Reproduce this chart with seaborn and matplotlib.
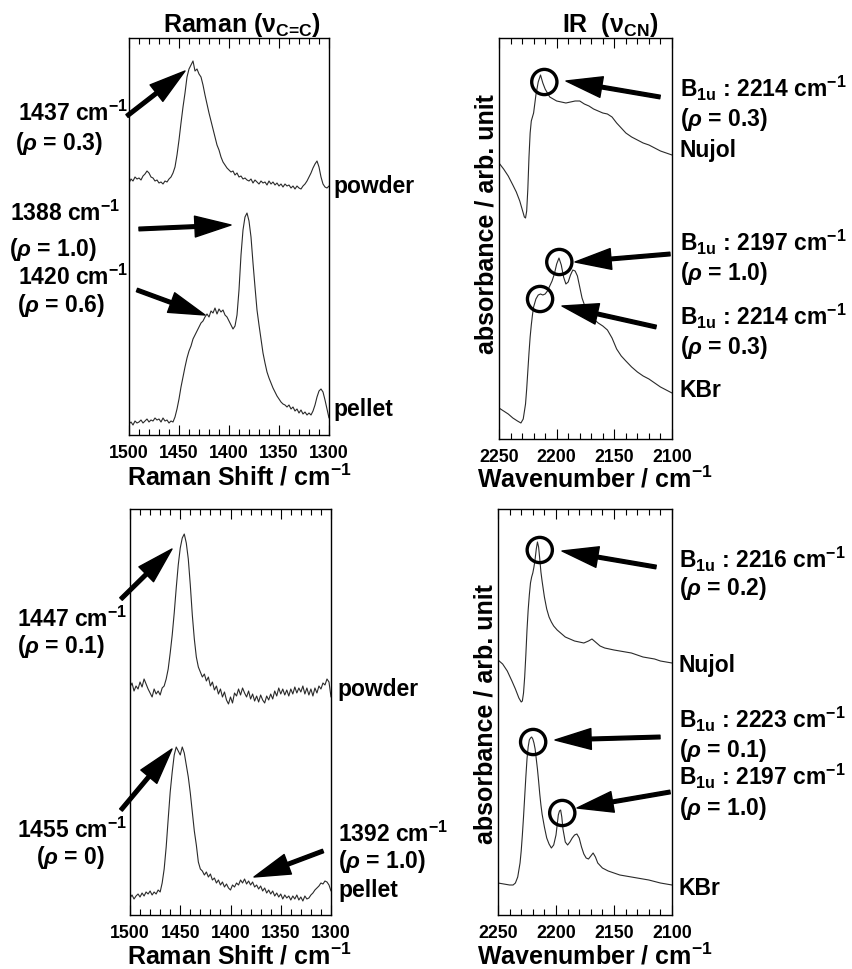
import matplotlib
matplotlib.use("Agg")
import matplotlib.pyplot as plt
from matplotlib.ticker import MultipleLocator
import numpy as np
import seaborn as sns

W, H = 853, 969  # size of the reference picture in pixels

# Raman spectra, sampled every 2 cm-1 from 1500 down to 1300 (arb. units, offsets included)
RAMAN_SHIFT = np.arange(1500, 1299, -2)

RAMAN_TOP_POWDER = [
    252, 256, 254, 258, 256, 257, 255, 259, 261, 264,
    262, 258, 257, 254, 255, 252, 253, 251, 254, 253,
    256, 258, 262, 268, 280, 295, 312, 328, 342, 358,
    366, 370, 374, 364, 366, 361, 358, 350, 340, 331,
    322, 314, 306, 298, 290, 285, 278, 273, 270, 267,
    265, 263, 264, 260, 262, 258, 259, 256, 257, 255,
    254, 256, 252, 255, 253, 251, 254, 252, 253, 250,
    254, 251, 253, 250, 252, 249, 251, 248, 251, 249,
    250, 247, 249, 246, 249, 247, 246, 249, 251, 254,
    258, 262, 267, 271, 274, 268, 258, 251, 248, 247,
    249,
]
RAMAN_TOP_PELLET = [
    11, 13, 10, 14, 12, 13, 15, 12, 14, 16,
    13, 15, 14, 17, 15, 16, 13, 17, 14, 15,
    12, 14, 13, 18, 26, 36, 48, 58, 68, 77,
    84, 89, 96, 100, 104, 108, 112, 114, 118, 121,
    118, 124, 122, 127, 121, 126, 123, 125, 120, 118,
    114, 110, 106, 109, 120, 145, 180, 205, 218, 222,
    214, 198, 172, 148, 125, 110, 96, 82, 72, 63,
    57, 52, 47, 43, 39, 36, 33, 31, 30, 28,
    30, 26, 28, 24, 26, 22, 25, 21, 23, 20,
    22, 20, 24, 30, 38, 44, 46, 43, 35, 26,
    17,
]
RAMAN_BOT_POWDER = [
    228, 232, 224, 229, 226, 233, 228, 236, 231, 226,
    222, 218, 226, 221, 224, 220, 227, 229, 236, 246,
    262, 280, 302, 327, 350, 367, 377, 381, 372, 356,
    330, 300, 276, 258, 248, 243, 238, 241, 234, 238,
    229, 233, 225, 229, 221, 226, 218, 223, 215, 211,
    218, 212, 222, 219, 226, 220, 227, 222, 218, 224,
    216, 221, 214, 219, 213, 220, 215, 212, 219, 215,
    221, 216, 224, 219, 227, 221, 226, 220, 225, 219,
    226, 221, 228, 222, 227, 223, 229, 221, 227, 220,
    226, 219, 227, 222, 229, 226, 232, 230, 236, 233,
    218,
]
RAMAN_BOT_PELLET = [
    17, 20, 16, 19, 21, 18, 22, 19, 23, 21,
    24, 20, 23, 21, 25, 23, 32, 46, 68, 96,
    123, 143, 160, 168, 164, 160, 168, 162, 150, 138,
    122, 103, 84, 70, 53, 46, 44, 40, 43, 38,
    41, 35, 37, 32, 35, 30, 33, 28, 31, 27,
    25, 30, 28, 32, 30, 35, 32, 36, 31, 34,
    30, 33, 28, 30, 26, 29, 24, 27, 22, 25,
    21, 24, 19, 22, 18, 21, 16, 20, 17, 19,
    15, 19, 16, 20, 15, 18, 14, 19, 16, 17,
    20, 22, 25, 27, 29, 32, 31, 34, 33, 30,
    24,
]

# IR spectra (wavenumber / cm-1, absorbance in arb. units with offsets)
IR_TOP_NUJOL_WN = [
    2250, 2246, 2242, 2238, 2235, 2232, 2230, 2228, 2227, 2226,
    2225, 2224, 2223, 2222, 2220, 2218, 2216, 2214, 2212, 2210,
    2208, 2206, 2203, 2200, 2196, 2192, 2188, 2184, 2180, 2176,
    2172, 2168, 2164, 2160, 2156, 2152, 2148, 2144, 2140, 2135,
    2130, 2125, 2120, 2115, 2110, 2105, 2100,
]
IR_TOP_NUJOL = [
    276, 270, 263, 254, 247, 238, 230, 222, 221, 228,
    250, 282, 306, 318, 326, 344, 357, 364, 356, 350,
    346, 342, 340, 338, 337, 336, 337, 338, 338, 335,
    333, 330, 328, 326, 325, 322, 316, 311, 306, 302,
    299, 296, 294, 291, 288, 286, 284,
]
IR_TOP_KBR_WN = [
    2250, 2246, 2242, 2238, 2234, 2231, 2229, 2227, 2226, 2225,
    2224, 2223, 2222, 2221, 2220, 2218, 2216, 2214, 2212, 2210,
    2208, 2206, 2204, 2202, 2200, 2198, 2196, 2194, 2192, 2190,
    2188, 2186, 2184, 2182, 2180, 2178, 2175, 2172, 2168, 2164,
    2160, 2156, 2152, 2148, 2144, 2140, 2135, 2130, 2125, 2120,
    2115, 2110, 2105, 2100,
]
IR_TOP_KBR = [
    31, 28, 25, 21, 18, 16, 20, 35, 50, 68,
    86, 102, 114, 124, 132, 140, 144, 145, 144, 145,
    148, 153, 158, 165, 175, 181, 174, 162, 155, 157,
    164, 169, 168, 163, 152, 141, 131, 125, 120, 116,
    113, 109, 101, 90, 83, 78, 72, 67, 63, 60,
    56, 52, 49, 46,
]
IR_BOT_NUJOL_WN = [
    2250, 2246, 2242, 2238, 2235, 2232, 2230, 2229, 2228, 2227,
    2226, 2225, 2224, 2223, 2222, 2221, 2220, 2219, 2218, 2217,
    2216, 2215, 2214, 2213, 2212, 2210, 2208, 2206, 2204, 2202,
    2199, 2196, 2192, 2188, 2184, 2180, 2176, 2172, 2169, 2166,
    2162, 2158, 2154, 2150, 2145, 2140, 2135, 2130, 2125, 2120,
    2115, 2110, 2105, 2100,
]
IR_BOT_NUJOL = [
    255, 251, 244, 234, 226, 217, 213, 214, 222, 238,
    260, 285, 305, 320, 332, 338, 342, 348, 356, 366,
    373, 368, 356, 343, 334, 318, 306, 298, 293, 289,
    285, 282, 278, 276, 274, 273, 272, 274, 276, 273,
    269, 267, 266, 265, 264, 263, 262, 260, 258, 257,
    256, 254, 253, 252,
]
IR_BOT_KBR_WN = [
    2250, 2245, 2240, 2237, 2235, 2233, 2231, 2230, 2229, 2228,
    2227, 2226, 2225, 2224, 2223, 2222, 2221, 2220, 2219, 2218,
    2217, 2216, 2215, 2214, 2213, 2212, 2210, 2208, 2206, 2204,
    2202, 2200, 2199, 2198, 2197, 2196, 2195, 2194, 2192, 2190,
    2188, 2186, 2184, 2182, 2180, 2178, 2176, 2174, 2172, 2170,
    2168, 2166, 2164, 2160, 2155, 2150, 2145, 2140, 2130, 2120,
    2110, 2100,
]
IR_BOT_KBR = [
    32, 31, 30, 30, 32, 38, 52, 64, 80, 98,
    118, 138, 156, 168, 175, 177, 178, 176, 172, 166,
    156, 146, 134, 121, 110, 101, 88, 77, 71, 67,
    70, 80, 90, 100, 104, 105, 98, 86, 73, 70,
    73, 77, 80, 81, 77, 68, 61, 57, 56, 59,
    62, 58, 52, 47, 44, 42, 40, 39, 37, 35,
    32, 30,
]

# circled B1u bands
IR_TOP_MARK_WN = [2210.7, 2197.7, 2214.4]
IR_TOP_MARK = [357, 177, 140]
IR_BOT_MARK_WN = [2214.0, 2219.7, 2194.6]
IR_BOT_MARK = [365, 173, 102]

RAMAN_TICKS = [1500, 1450, 1400, 1350, 1300]
IR_TICKS = [2250, 2200, 2150, 2100]


def frac(x, y):
    # reference pixel position -> figure fraction
    return x / W, 1 - y / H


def rect(left, top, right, bottom):
    return [left / W, 1 - bottom / H, (right - left) / W, (bottom - top) / H]


def style_axis(ax, lim, ticks, height):
    ax.set_xlim(*lim)
    ax.set_ylim(0, height)
    ax.set_xticks(ticks)
    ax.xaxis.set_minor_locator(MultipleLocator(10))
    ax.set_yticks([])
    ax.tick_params(axis="x", which="both", direction="in", top=True, bottom=True,
                   labelsize=12.8, pad=7, width=0.8, color="black", labelcolor="black")
    ax.tick_params(axis="x", which="major", length=7)
    ax.tick_params(axis="x", which="minor", length=4)
    for s in ax.spines.values():
        s.set_color("black")
        s.set_linewidth(1.0)


def trace(ax, x, y):
    sns.lineplot(x=x, y=y, ax=ax, color="#2a2a2a", linewidth=0.8,
                 estimator=None, sort=False)


def circles(ax, x, y):
    sns.scatterplot(x=x, y=y, ax=ax, s=330, marker="o", color="black",
                    facecolor="none", edgecolor="black", linewidth=2.4, zorder=5)


def arrow(ax, tail, tip):
    ax.annotate("", xy=frac(*tip), xytext=frac(*tail),
                xycoords="figure fraction", textcoords="figure fraction",
                arrowprops=dict(facecolor="black", edgecolor="black", width=2.6,
                                headwidth=15, headlength=26, shrink=0),
                annotation_clip=False)


def label(fig, text, x, y, size=16.5, ha="left"):
    fig.text(*frac(x, y), text, fontsize=size, fontweight="bold", ha=ha,
             va="baseline", color="black")


sns.set_theme(style="ticks")
plt.rcParams["font.family"] = ["Liberation Sans", "DejaVu Sans"]
plt.rcParams["font.weight"] = "bold"
plt.rcParams["text.color"] = "black"
plt.rcParams["axes.labelcolor"] = "black"
plt.rcParams["mathtext.fontset"] = "custom"
plt.rcParams["mathtext.rm"] = "Liberation Sans:bold"
plt.rcParams["mathtext.bf"] = "Liberation Sans:bold"
plt.rcParams["mathtext.it"] = "Liberation Sans:bold:italic"
plt.rcParams["mathtext.sf"] = "Liberation Sans:bold"

fig = plt.figure(figsize=(W / 100, H / 100), dpi=100)
fig.patch.set_facecolor("white")

ax_tl = fig.add_axes(rect(129, 38, 329, 435))
ax_tr = fig.add_axes(rect(499, 38, 672, 439))
ax_bl = fig.add_axes(rect(130, 509, 331, 915))
ax_br = fig.add_axes(rect(498, 509, 672, 915))

# Raman panels
trace(ax_tl, RAMAN_SHIFT, RAMAN_TOP_POWDER)
trace(ax_tl, RAMAN_SHIFT, RAMAN_TOP_PELLET)
trace(ax_bl, RAMAN_SHIFT, RAMAN_BOT_POWDER)
trace(ax_bl, RAMAN_SHIFT, RAMAN_BOT_PELLET)
style_axis(ax_tl, (1500, 1300), RAMAN_TICKS, 397)
style_axis(ax_bl, (1500, 1300), RAMAN_TICKS, 406)

# IR panels
trace(ax_tr, IR_TOP_NUJOL_WN, IR_TOP_NUJOL)
trace(ax_tr, IR_TOP_KBR_WN, IR_TOP_KBR)
trace(ax_br, IR_BOT_NUJOL_WN, IR_BOT_NUJOL)
trace(ax_br, IR_BOT_KBR_WN, IR_BOT_KBR)
circles(ax_tr, IR_TOP_MARK_WN, IR_TOP_MARK)
circles(ax_br, IR_BOT_MARK_WN, IR_BOT_MARK)
style_axis(ax_tr, (2250, 2100), IR_TICKS, 401)
style_axis(ax_br, (2250, 2100), IR_TICKS, 406)

for ax in (ax_tl, ax_bl):
    ax.set_ylabel("")
for ax, xc, yb in [(ax_tl, 0.55, -0.128), (ax_bl, 0.542, -0.122)]:
    ax.set_xlabel("Raman Shift / cm$^{-1}$", fontsize=18, fontweight="bold", va="baseline")
    ax.xaxis.set_label_coords(xc, yb)
for ax, xc, yb, yc in [(ax_tr, 0.555, -0.122, 0.536), (ax_br, 0.557, -0.122, 0.495)]:
    ax.set_xlabel("Wavenumber / cm$^{-1}$", fontsize=18, fontweight="bold", va="baseline")
    ax.xaxis.set_label_coords(xc, yb)
    ax.set_ylabel("absorbance / arb. unit", fontsize=18, fontweight="bold", va="baseline")
    ax.yaxis.set_label_coords(-0.033, yc)

# titles
label(fig, "Raman (\u03bd$_{\\text{C=C}}$)", 163, 32, size=18)
label(fig, "IR  (\u03bd$_{\\mathrm{CN}}$)", 562, 32, size=18)

# top-left annotations
label(fig, "1437 cm$^{-1}$", 18, 121)
label(fig, "($\\rho$ = 0.3)", 15, 150)
label(fig, "powder", 333, 193)
label(fig, "1388 cm$^{-1}$", 10, 221)
label(fig, "($\\rho$ = 1.0)", 9, 256)
label(fig, "1420 cm$^{-1}$", 18, 285)
label(fig, "($\\rho$ = 0.6)", 17, 312)
label(fig, "pellet", 333, 416)
arrow(ax_tl, (127, 116), (185, 71))
arrow(ax_tl, (139, 229), (231, 225))
arrow(ax_tl, (137, 290), (205, 315))

# top-right annotations
label(fig, "B$_{\\mathrm{1u}}$ : 2214 cm$^{-1}$", 680, 97)
label(fig, "($\\rho$ = 0.3)", 680, 126)
label(fig, "Nujol", 680, 157)
label(fig, "B$_{\\mathrm{1u}}$ : 2197 cm$^{-1}$", 680, 251)
label(fig, "($\\rho$ = 1.0)", 680, 280)
label(fig, "B$_{\\mathrm{1u}}$ : 2214 cm$^{-1}$", 680, 325)
label(fig, "($\\rho$ = 0.3)", 680, 354)
label(fig, "KBr", 680, 397)
arrow(ax_tr, (660, 97), (566, 81))
arrow(ax_tr, (670, 254), (575, 262))
arrow(ax_tr, (656, 327), (562, 306))

# bottom-left annotations
label(fig, "1447 cm$^{-1}$", 17, 627)
label(fig, "($\\rho$ = 0.1)", 17, 653)
label(fig, "powder", 337, 696)
label(fig, "1455 cm$^{-1}$", 72, 838, ha="center")
label(fig, "($\\rho$ = 0)", 70, 864, ha="center")
label(fig, "1392 cm$^{-1}$", 338, 842)
label(fig, "($\\rho$ = 1.0)", 338, 868)
label(fig, "pellet", 338, 897)
arrow(ax_bl, (121, 599), (172, 549))
arrow(ax_bl, (121, 810), (172, 749))
arrow(ax_bl, (323, 851), (254, 877))

# bottom-right annotations
label(fig, "B$_{\\mathrm{1u}}$ : 2216 cm$^{-1}$", 679, 568)
label(fig, "($\\rho$ = 0.2)", 679, 595)
label(fig, "Nujol", 679, 672)
label(fig, "B$_{\\mathrm{1u}}$ : 2223 cm$^{-1}$", 679, 728)
label(fig, "($\\rho$ = 0.1)", 679, 757)
label(fig, "B$_{\\mathrm{1u}}$ : 2197 cm$^{-1}$", 679, 785)
label(fig, "($\\rho$ = 1.0)", 679, 815)
label(fig, "KBr", 679, 895)
arrow(ax_br, (656, 567), (562, 551))
arrow(ax_br, (660, 737), (555, 740))
arrow(ax_br, (670, 792), (577, 808))

fig.savefig("out.png", dpi=100, facecolor="white")
